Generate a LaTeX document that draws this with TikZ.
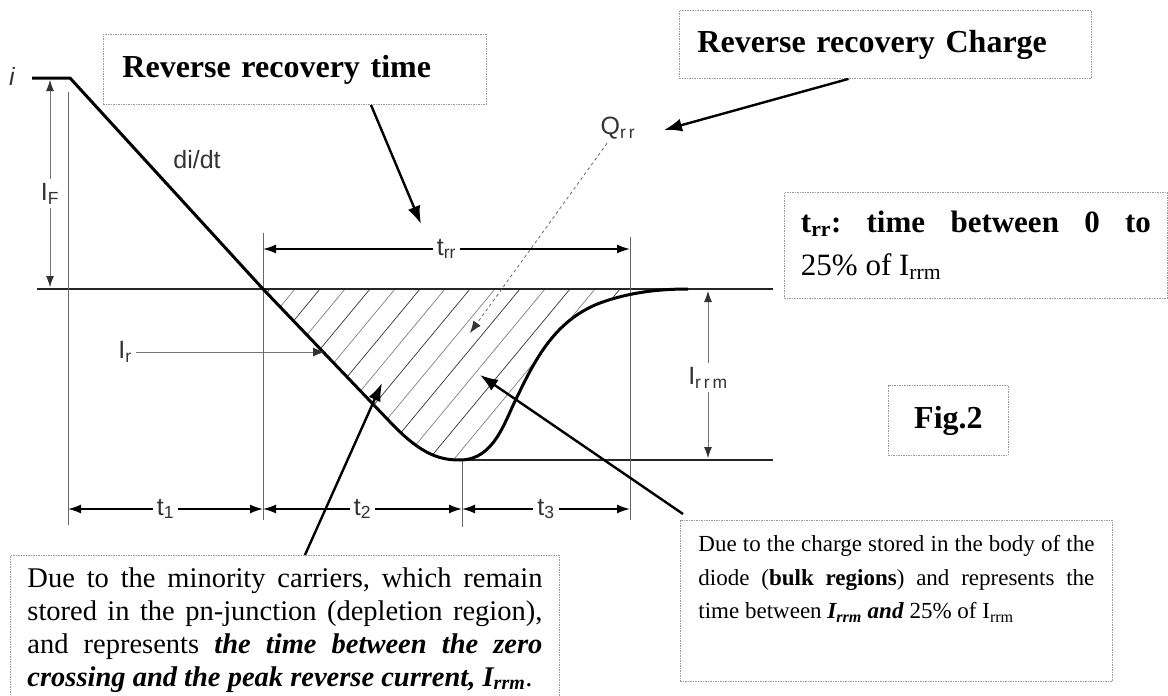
\documentclass[tikz,border=0pt]{standalone}
\usepackage{fontspec}
\setmainfont{Liberation Serif}
\setsansfont{Liberation Sans}
\usetikzlibrary{arrows.meta}
\frenchspacing

\tikzset{
  notebox/.style={draw=gray!80, dash pattern=on 1.5pt off 1pt, line width=0.9pt},
  pointer/.style={line width=2.4pt, -{Latex[length=18pt,width=13pt]}},
  guide/.style={black!60, line width=0.9pt},
  dimline/.style={line width=1.7pt, {Latex[length=13pt,width=9pt]}-{Latex[length=13pt,width=9pt]}},
  thindim/.style={black!55, line width=0.8pt, {Latex[length=11pt,width=8pt,black!80]}-{Latex[length=11pt,width=8pt,black!80]}},
  lbl/.style={font=\sffamily\fontsize{25}{29}\selectfont, text=black!80, inner sep=4pt},
  gaplbl/.style={lbl, fill=white},
}

\begin{document}
\begin{tikzpicture}[x=1pt,y=-1pt]
\useasboundingbox (0,0) rectangle (1168,696);

% key points of the current waveform
\coordinate (top) at (32,78);
\coordinate (knee) at (70,78);
\coordinate (zc) at (263,289);
\coordinate (bend) at (392,424);
\coordinate (pk) at (460,460);
\coordinate (rise) at (518,395);
\coordinate (tail) at (600,303);
\coordinate (settle) at (688,289);

% hatched charge area Qrr
\begin{scope}
  \clip (zc) -- (bend) .. controls (422,455) and (440,460) .. (pk)
    .. controls (495,460) and (505,420) .. (rise)
    .. controls (535,360) and (555,320) .. (tail)
    .. controls (630,292) and (660,289) .. (settle) -- cycle;
  \foreach \x/\shade in {270/80,295/50,320/80,345/50,370/80,395/50,420/80,445/50,
      470/80,495/50,520/80,545/50,570/80,595/50,620/80,645/50,670/80,695/50,
      720/80,745/50,770/80,795/50,820/80,845/50}{
    \draw[black!\shade, line width=0.7pt] (\x,289) -- ++(-150,181);
  }
\end{scope}

% zero level and peak level
\draw[line width=1.8pt, black!85] (37,289) -- (773,289);
\draw[line width=1.8pt, black!85] (455,460) -- (773,460);

% vertical guides
\draw[guide] (68,92) -- (68,525);
\draw[guide] (263,233) -- (263,520);
\draw[guide] (462,460) -- (462,527);
\draw[guide] (630,237) -- (630,520);

% waveform
\draw[line width=3pt, line join=round] (top) -- (knee) -- (zc) -- (bend)
  .. controls (422,455) and (440,460) .. (pk)
  .. controls (495,460) and (505,420) .. (rise)
  .. controls (535,360) and (555,320) .. (tail)
  .. controls (630,292) and (660,289) .. (settle);

% axis and slope labels
\node[lbl, font=\sffamily\itshape\fontsize{25}{29}\selectfont] (ilab) at (12,76) {i};
\node[lbl] (didt) at (197,160) {di/dt};

% dimension arrows
\coordinate (ifa) at (50,80);
\coordinate (ifb) at (50,287);
\draw[thindim] (ifa) -- node[gaplbl, pos=0.55] (iflab) {I\textsubscript{F}} (ifb);

\coordinate (trra) at (263,249);
\coordinate (trrb) at (630,249);
\draw[dimline] (trra) -- node[gaplbl] (trrlab) {t\textsubscript{rr}} (trrb);

\coordinate (ta) at (68,509);
\coordinate (tb) at (263,509);
\coordinate (tc) at (462,509);
\coordinate (td) at (630,509);
\draw[dimline] (ta) -- node[gaplbl] (t1lab) {t\textsubscript{1}} (tb);
\draw[dimline] (tb) -- node[gaplbl] (t2lab) {t\textsubscript{2}} (tc);
\draw[dimline] (tc) -- node[gaplbl] (t3lab) {t\textsubscript{3}} (td);

\coordinate (irma) at (708,291);
\coordinate (irmb) at (708,458);
\draw[thindim] (irma) -- node[gaplbl, pos=0.52] (irrmlab) {I\textsubscript{r\,r\,m}} (irmb);

\node[lbl] (irlab) at (125,352) {I\textsubscript{r}};
\coordinate (irtip) at (325,352);
\draw[black!55, line width=0.8pt, -{Latex[length=12pt,width=9pt,black!80]}] (irlab) -- (irtip);

\node[lbl] (qrr) at (618,128) {Q\textsubscript{r\,r}};
\coordinate (qtip) at (470,333);
\draw[black!60, line width=0.8pt, dashed, -{Latex[length=12pt,width=9pt,black!80]}] (qrr) -- (qtip);

% note boxes
\node[notebox, anchor=north west, minimum width=383pt, minimum height=70pt,
  text width=345pt, inner xsep=19pt, align=left,
  font=\bfseries\fontsize{32}{36}\selectfont] (rrtime) at (103,34) {Reverse recovery time};
\node[notebox, anchor=north west, minimum width=412pt, minimum height=68pt,
  text width=376pt, inner xsep=18pt, align=left,
  font=\bfseries\fontsize{32}{36}\selectfont] (rrcharge) at (679,10) {Reverse recovery Charge};
\node[notebox, anchor=north west, minimum width=383pt, minimum height=106pt,
  text width=350pt, inner xsep=16pt, align=justify,
  font=\fontsize{31}{43}\selectfont] (trrbox) at (784,192)
  {\textbf{t\textsubscript{rr}: time between 0 to}\linebreak 25\% of I\textsubscript{rrm}};
\node[notebox, anchor=north west, minimum width=120pt, minimum height=70pt,
  font=\bfseries\fontsize{32}{36}\selectfont] (figbox) at (888,385) {Fig.2};
\node[notebox, anchor=north west, text width=515pt, inner xsep=17pt, inner ysep=12pt,
  align=justify, font=\fontsize{28.5}{33}\selectfont] (minbox) at (10,555)
  {Due to the minority carriers, which remain\linebreak
   stored in the pn-junction (depletion region),\linebreak
   and represents \textbf{\textit{the time between the zero\linebreak
   crossing and the peak reverse current, I\textsubscript{rrm}}}.};
\node[notebox, anchor=north west, inner xsep=18pt, inner ysep=15pt,
  font=\fontsize{23}{33.5}\selectfont] (bulkbox) at (680,520)
  {\parbox[t][131pt][t]{396pt}{Due to the charge stored in the body of the\linebreak
   diode (\textbf{bulk regions}) and represents the\linebreak
   time between \textbf{\textit{I\textsubscript{rrm} and}} 25\% of I\textsubscript{rrm}}};

% pointers from the notes
\coordinate (trrtip) at (421,224);
\coordinate (qptr) at (664,130);
\coordinate (mintip) at (382,383);
\coordinate (bulktip) at (480,375);
\draw[pointer] (rrtime.-25) -- (trrtip);
\draw[pointer] (rrcharge.-137) -- (qptr);
\draw[pointer] ([xshift=20pt]minbox.north) -- (mintip);
\draw[pointer] ([xshift=3pt,yshift=6pt]bulkbox.north west) -- (bulktip);

\end{tikzpicture}
\end{document}
